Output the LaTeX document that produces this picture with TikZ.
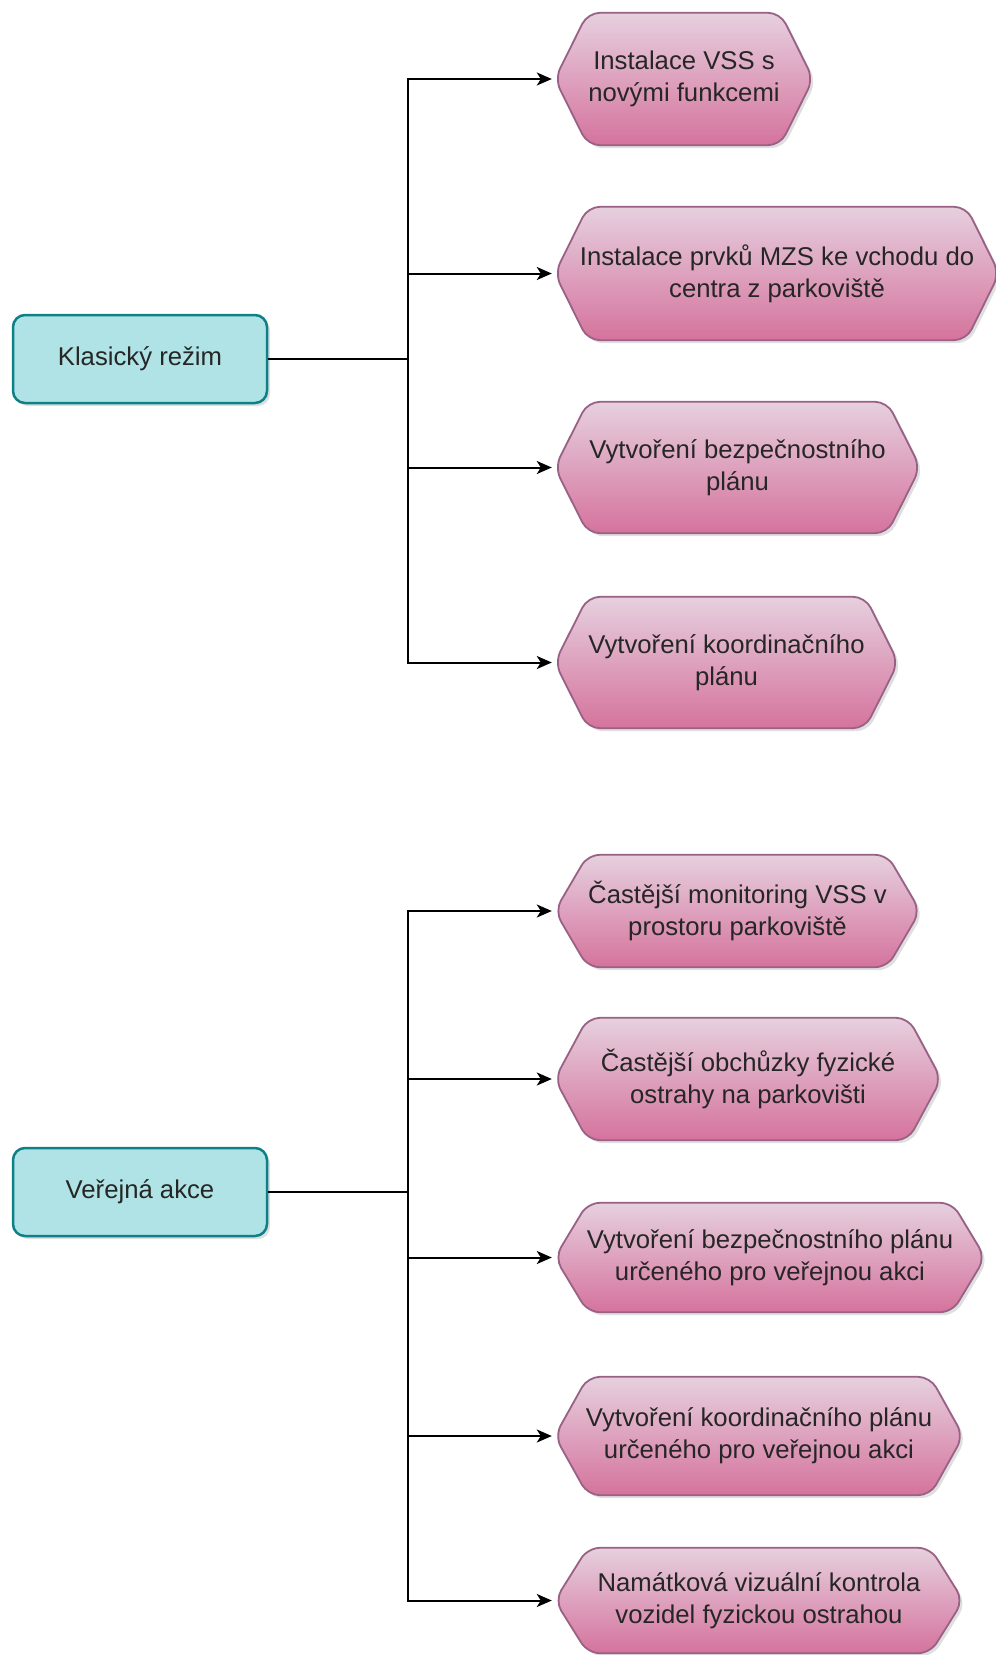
\documentclass[tikz,border=0pt]{standalone}
\usepackage{fontspec}
\setmainfont{Liberation Sans}
\usetikzlibrary{shadows,arrows.meta,backgrounds}

\definecolor{modefill}{HTML}{B0E3E6}
\definecolor{modeline}{HTML}{0E8088}
\definecolor{tasktop}{HTML}{E6D0DE}
\definecolor{taskbot}{HTML}{D5739D}
\definecolor{taskline}{HTML}{996185}
\definecolor{txt}{HTML}{262626}

\begin{document}
\begin{tikzpicture}[x=1pt,y=-1pt,
	mode/.style={shape=rectangle, rounded corners=12pt, draw=modeline, line width=2.5pt,
		fill=modefill, minimum width=254pt, minimum height=88pt, text=txt,
		drop shadow={shadow xshift=3pt, shadow yshift=-3pt, opacity=.25},
		font=\fontsize{25.7}{32}\selectfont},
	task/.style={shape=rectangle, align=center, inner sep=0pt, text=txt,
		font=\fontsize{25.7}{32}\selectfont},
	hexa/.style={draw=taskline, line width=1.8pt, top color=tasktop, bottom color=taskbot,
		rounded corners=12pt,
		drop shadow={shadow xshift=3pt, shadow yshift=-3pt, opacity=.25}},
	link/.style={line width=2pt, -{Stealth[length=15pt,width=13pt,inset=4pt]}, shorten >=3pt}]

	\useasboundingbox (0,0) rectangle (996,1655);

	% left column
	\node[mode] (klas) at (140, 359)  {Klasický režim};
	\node[mode] (akce) at (140, 1192) {Veřejná akce};

	\coordinate (fork1) at (408, 359);
	\coordinate (fork2) at (408, 1192);

	% measures, regular mode
	\node[task, minimum width=258pt, minimum height=132pt] (k1) at (684, 79)    {Instalace VSS s\\novými funkcemi};
	\node[task, minimum width=444pt, minimum height=133pt] (k2) at (777, 273.5) {Instalace prvků MZS ke vchodu do\\centra z parkoviště};
	\node[task, minimum width=365pt, minimum height=131pt] (k3) at (737.5, 467.5) {Vytvoření bezpečnostního\\plánu};
	\node[task, minimum width=343pt, minimum height=131pt] (k4) at (726.5, 662.5) {Vytvoření koordinačního\\plánu};

	% measures, public event
	\node[task, minimum width=365pt, minimum height=112pt] (a1) at (737.5, 911) {Častější monitoring VSS v\\prostoru parkoviště};
	\node[task, minimum width=386pt, minimum height=122pt] (a2) at (748, 1079)  {Častější obchůzky fyzické\\ostrahy na parkovišti};
	\node[task, minimum width=430pt, minimum height=109pt] (a3) at (770, 1257.5) {Vytvoření bezpečnostního plánu\\určeného pro veřejnou akci};
	\node[task, minimum width=408pt, minimum height=118pt] (a4) at (759, 1436)  {Vytvoření koordinačního plánu\\určeného pro veřejnou akci};
	\node[task, minimum width=408pt, minimum height=105pt] (a5) at (759, 1600.5) {Namátková vizuální kontrola\\vozidel fyzickou ostrahou};

	% hexagon outlines behind the texts
	\begin{scope}[on background layer]
		\foreach \t in {k1,k2,k3,k4,a1,a2,a3,a4,a5}
			\path[hexa] (\t.north) -- ([xshift=-33pt]\t.north east) -- (\t.east)
				-- ([xshift=-33pt]\t.south east) -- ([xshift=33pt]\t.south west)
				-- (\t.west) -- ([xshift=33pt]\t.north west) -- cycle;
	\end{scope}

	\foreach \t in {k1,k2,k3,k4}
		\draw[link] (klas.east) -- (fork1) |- (\t.west);
	\foreach \t in {a1,a2,a3,a4,a5}
		\draw[link] (akce.east) -- (fork2) |- (\t.west);

\end{tikzpicture}
\end{document}
